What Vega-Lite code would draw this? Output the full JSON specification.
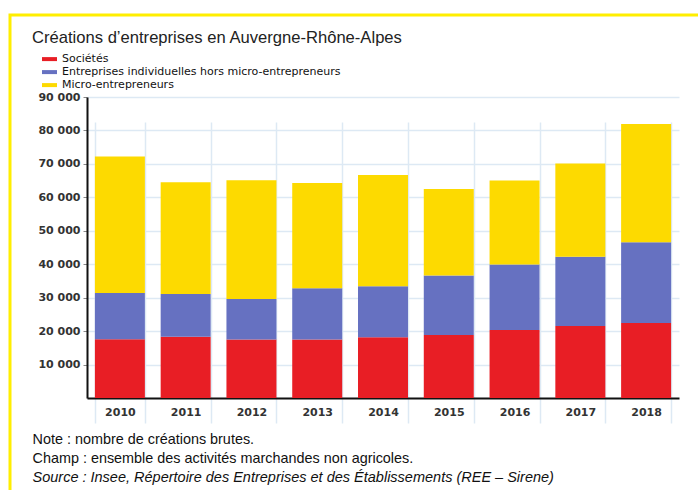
{
  "$schema": "https://vega.github.io/schema/vega-lite/v6.json",
  "autosize": "none",
  "width": 700,
  "height": 490,
  "padding": {"left": 10, "top": 15, "right": 0, "bottom": 0},
  "background": "white",
  "config": {
    "view": {"stroke": "#ffee00", "strokeWidth": 3, "fill": "white"}
  },
  "data": {
    "values": [
      {"annee": "2010", "serie": "Sociétés", "rang": 1, "n": 17600},
      {"annee": "2010", "serie": "Entreprises individuelles hors micro-entrepreneurs", "rang": 2, "n": 13800},
      {"annee": "2010", "serie": "Micro-entrepreneurs", "rang": 3, "n": 40800},
      {"annee": "2011", "serie": "Sociétés", "rang": 1, "n": 18300},
      {"annee": "2011", "serie": "Entreprises individuelles hors micro-entrepreneurs", "rang": 2, "n": 12800},
      {"annee": "2011", "serie": "Micro-entrepreneurs", "rang": 3, "n": 33400},
      {"annee": "2012", "serie": "Sociétés", "rang": 1, "n": 17500},
      {"annee": "2012", "serie": "Entreprises individuelles hors micro-entrepreneurs", "rang": 2, "n": 12100},
      {"annee": "2012", "serie": "Micro-entrepreneurs", "rang": 3, "n": 35500},
      {"annee": "2013", "serie": "Sociétés", "rang": 1, "n": 17500},
      {"annee": "2013", "serie": "Entreprises individuelles hors micro-entrepreneurs", "rang": 2, "n": 15300},
      {"annee": "2013", "serie": "Micro-entrepreneurs", "rang": 3, "n": 31500},
      {"annee": "2014", "serie": "Sociétés", "rang": 1, "n": 18200},
      {"annee": "2014", "serie": "Entreprises individuelles hors micro-entrepreneurs", "rang": 2, "n": 15200},
      {"annee": "2014", "serie": "Micro-entrepreneurs", "rang": 3, "n": 33300},
      {"annee": "2015", "serie": "Sociétés", "rang": 1, "n": 18800},
      {"annee": "2015", "serie": "Entreprises individuelles hors micro-entrepreneurs", "rang": 2, "n": 17800},
      {"annee": "2015", "serie": "Micro-entrepreneurs", "rang": 3, "n": 25900},
      {"annee": "2016", "serie": "Sociétés", "rang": 1, "n": 20300},
      {"annee": "2016", "serie": "Entreprises individuelles hors micro-entrepreneurs", "rang": 2, "n": 19600},
      {"annee": "2016", "serie": "Micro-entrepreneurs", "rang": 3, "n": 25100},
      {"annee": "2017", "serie": "Sociétés", "rang": 1, "n": 21500},
      {"annee": "2017", "serie": "Entreprises individuelles hors micro-entrepreneurs", "rang": 2, "n": 20700},
      {"annee": "2017", "serie": "Micro-entrepreneurs", "rang": 3, "n": 27900},
      {"annee": "2018", "serie": "Sociétés", "rang": 1, "n": 22400},
      {"annee": "2018", "serie": "Entreprises individuelles hors micro-entrepreneurs", "rang": 2, "n": 24200},
      {"annee": "2018", "serie": "Micro-entrepreneurs", "rang": 3, "n": 35300}
    ]
  },
  "mark": {"type": "bar"},
  "encoding": {
    "x": {
      "field": "annee",
      "type": "ordinal",
      "scale": {"range": [77, 669], "paddingInner": 0.24, "paddingOuter": 0.12},
      "axis": {
        "orient": "bottom",
        "offset": -107,
        "domainColor": "#111111",
        "domainWidth": 2,
        "ticks": false,
        "tickBand": "extent",
        "grid": true,
        "gridColor": "#dde9f4",
        "gridWidth": 1.5,
        "labelAngle": 0,
        "labelFont": "DejaVu Sans",
        "labelFontWeight": "bold",
        "labelFontSize": 11,
        "labelColor": "#333333",
        "labelPadding": 8,
        "title": ["Note : nombre de créations brutes.", "Champ : ensemble des activités marchandes non agricoles."],
        "titleFont": "Liberation Sans",
        "titleFontSize": 14.4,
        "titleFontWeight": "normal",
        "titleColor": "#111111",
        "titleAlign": "left",
        "titleAnchor": "start",
        "titleBaseline": "alphabetic",
        "titleLineHeight": 19,
        "titleX": 22,
        "titleY": 45
      }
    },
    "y": {
      "field": "n",
      "type": "quantitative",
      "stack": "zero",
      "scale": {"domain": [0, 90000], "range": [383, 82], "nice": false, "zero": true},
      "axis": {
        "orient": "left",
        "offset": -77,
        "values": [10000, 20000, 30000, 40000, 50000, 60000, 70000, 80000, 90000],
        "labelExpr": "replace(format(datum.value, ','), ',', ' ')",
        "domainColor": "#111111",
        "domainWidth": 2,
        "tickColor": "#888888",
        "tickSize": 4,
        "labelPadding": 3,
        "labelFont": "DejaVu Sans",
        "labelFontWeight": "bold",
        "labelFontSize": 11,
        "labelColor": "#333333",
        "grid": true,
        "gridColor": "#dde9f4",
        "gridWidth": 1.5,
        "title": "Source : Insee, Répertoire des Entreprises et des Établissements (REE – Sirene)",
        "titleFont": "Liberation Sans",
        "titleFontSize": 14.5,
        "titleFontWeight": "normal",
        "titleFontStyle": "italic",
        "titleColor": "#111111",
        "titleAngle": 0,
        "titleAlign": "left",
        "titleBaseline": "alphabetic",
        "titleX": -55,
        "titleY": 466
      }
    },
    "color": {
      "field": "serie",
      "type": "nominal",
      "scale": {
        "domain": ["Sociétés", "Entreprises individuelles hors micro-entrepreneurs", "Micro-entrepreneurs"],
        "range": ["#e81e25", "#6671c1", "#fdda00"]
      },
      "legend": {
        "orient": "none",
        "legendX": 22,
        "legendY": 15,
        "padding": 0,
        "title": "Créations d’entreprises en Auvergne-Rhône-Alpes",
        "titleFont": "Liberation Sans",
        "titleFontSize": 16.6,
        "titleFontWeight": "normal",
        "titleColor": "#222222",
        "titlePadding": 7,
        "titleLimit": 600,
        "symbolType": "M-1.5,-0.4L1.5,-0.4L1.5,0.4L-1.5,0.4Z",
        "symbolSize": 100,
        "symbolStrokeWidth": 0,
        "symbolOpacity": 1,
        "symbolOffset": 12,
        "labelOffset": 7,
        "labelFont": "DejaVu Sans",
        "labelFontSize": 11,
        "labelColor": "#111111",
        "labelLimit": 500,
        "rowPadding": 1
      }
    },
    "order": {"field": "rang", "type": "quantitative"}
  }
}
